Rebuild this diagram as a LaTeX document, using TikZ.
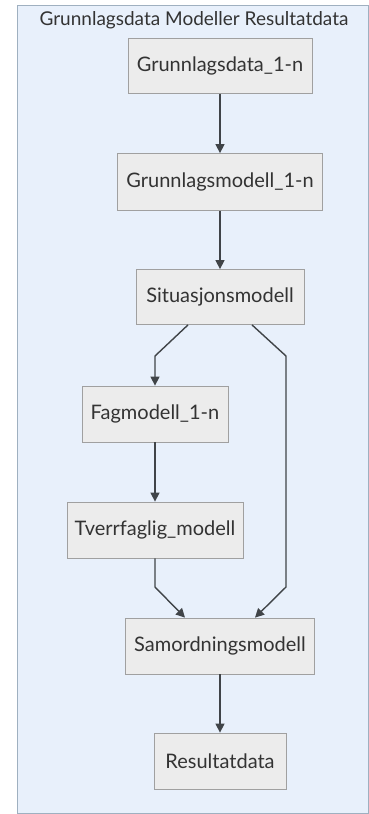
\documentclass[tikz,border=0pt]{standalone}
\usepackage{fontspec}
\setmainfont{Lato}
\usetikzlibrary{arrows.meta}
\definecolor{panelbg}{HTML}{E8F0FB}
\definecolor{panelline}{HTML}{9FB0C0}
\definecolor{boxfill}{HTML}{ECECEC}
\definecolor{boxline}{HTML}{A0A0A0}
\definecolor{edgecol}{HTML}{404448}
\definecolor{txt}{HTML}{333333}
\tikzset{
  block/.style={draw=boxline, fill=boxfill, line width=0.8pt, inner sep=0pt,
    font=\fontsize{20}{24}\selectfont, text=txt, anchor=center},
  flow/.style={draw=edgecol, line width=1.4pt,
    -{Triangle[length=9pt,width=9pt]}},
}
\begin{document}
\begin{tikzpicture}[x=1pt,y=-1pt]
  \useasboundingbox (0,0) rectangle (369,814);
  % container
  \draw[fill=panelbg, draw=panelline, line width=1pt] (17,5) rectangle (368,813);
  \node[font=\fontsize{19}{22}\selectfont, text=txt] (title) at (194,20) {Grunnlagsdata Modeller Resultatdata};
  % blocks
  \node[block, minimum width=184pt, minimum height=55pt] (gd) at (220,66) {Grunnlagsdata\_1-n};
  \node[block, minimum width=205pt, minimum height=57pt] (gm) at (220,182) {Grunnlagsmodell\_1-n};
  \node[block, minimum width=168pt, minimum height=55pt] (sm) at (220,297) {Situasjonsmodell};
  \node[block, minimum width=146pt, minimum height=56pt] (fm) at (155,414) {Fagmodell\_1-n};
  \node[block, minimum width=176pt, minimum height=56pt] (tm) at (155,530) {Tverrfaglig\_modell};
  \node[block, minimum width=189pt, minimum height=56pt] (sam) at (220,646) {Samordningsmodell};
  \node[block, minimum width=132pt, minimum height=56pt] (res) at (220,761) {Resultatdata};
  % bend points
  \coordinate (b1) at (155,356);
  \coordinate (b2) at (286,356);
  \coordinate (b3) at (286,587);
  \coordinate (b4) at (155,587);
  % connectors
  \draw[flow] (gd) -- (gm);
  \draw[flow] (gm) -- (sm);
  \draw[flow] (sm.south -| 188,0) -- (b1) -- (fm.north);
  \draw[flow] (sm.south -| 252,0) -- (b2) -- (b3) -- (sam.north -| 255,0);
  \draw[flow] (fm) -- (tm);
  \draw[flow] (tm.south) -- (b4) -- (sam.north -| 185,0);
  \draw[flow] (sam) -- (res);
\end{tikzpicture}
\end{document}
